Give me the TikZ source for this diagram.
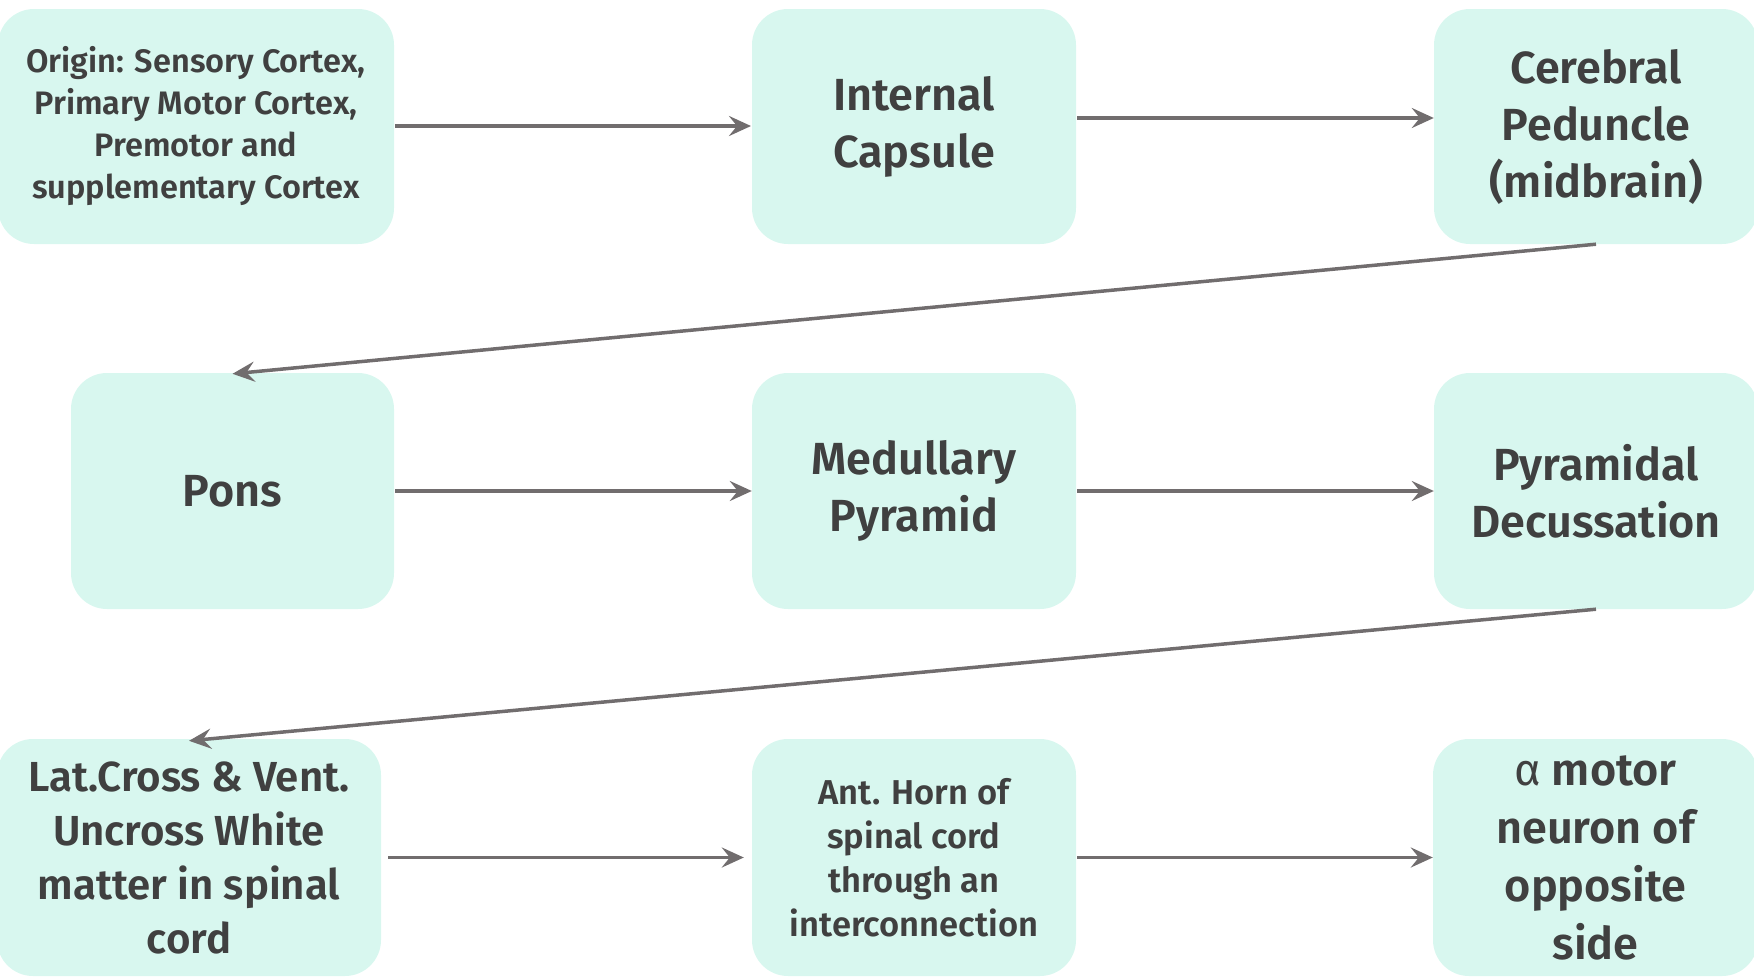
\documentclass[tikz,border=0pt]{standalone}
\usepackage{fontspec}
\setmainfont{Fira Sans}[UprightFont=* SemiBold, BoldFont=* Bold]
\newfontfamily\greekfont{Fira Sans}
\usetikzlibrary{arrows.meta}
\definecolor{boxfill}{HTML}{D8F7EF}
\definecolor{boxtext}{HTML}{404040}
\definecolor{linkgray}{HTML}{716D6E}
\newcommand{\fs}[2]{\fontsize{#1}{#2}\selectfont}
\tikzset{
  stage/.style={fill=boxfill, draw=none, rounded corners=36pt, inner sep=0pt,
    text=boxtext, align=center, font=\fs{45}{57}},
  link/.style={draw=linkgray, line width=3.5pt,
    -{Stealth[length=22pt, width=20pt, inset=8pt]}},
}
\begin{document}
\begin{tikzpicture}[x=1pt, y=-1pt]
\useasboundingbox (0,0) rectangle (1754,980);
% row 1
\node[stage, font=\fs{32.5}{42}, minimum width=396pt, minimum height=235pt] (origin) at (196,126.5)
  {Origin: Sensory Cortex,\\Primary Motor Cortex,\\Premotor and\\supplementary Cortex};
\node[stage, minimum width=324pt, minimum height=235pt] (capsule) at (914,126.5)
  {Internal\\Capsule};
\node[stage, minimum width=324pt, minimum height=235pt] (peduncle) at (1596,126.5)
  {Cerebral\\Peduncle\\(midbrain)};
% row 2
\node[stage, minimum width=323pt, minimum height=236pt] (pons) at (232.5,491)
  {Pons};
\node[stage, minimum width=324pt, minimum height=236pt] (pyramid) at (914,491)
  {Medullary\\Pyramid};
\node[stage, minimum width=324pt, minimum height=236pt] (decuss) at (1596,491)
  {Pyramidal\\Decussation};
% row 3
\node[stage, font=\fs{42}{54}, minimum width=384pt, minimum height=237pt] (white) at (189,857.5)
  {Lat.Cross \& Vent.\\Uncross White\\matter in spinal\\cord};
\node[stage, font=\fs{34.5}{44}, minimum width=324pt, minimum height=237pt] (horn) at (914,857.5)
  {Ant. Horn of\\spinal cord\\through an\\interconnection};
\node[stage, font=\fs{45}{58}, minimum width=325pt, minimum height=237pt] (alpha) at (1595.5,857.5)
  {{\greekfont α} motor\\neuron of\\opposite\\side};
% connectors
\coordinate (tipa) at (751,126);
\draw[link] (origin.east |- tipa) ++(1,0) -- (tipa);
\coordinate (srcb) at (1077,118);
\draw[link] (srcb) -- (peduncle.west |- srcb);
\draw[link] (peduncle.south) -- ([yshift=-1pt]pons.north);
\draw[link] ([xshift=1pt]pons.east) -- (pyramid.west);
\draw[link] ([xshift=1pt]pyramid.east) -- (decuss.west);
\draw[link] (decuss.south) -- ([yshift=-2pt]white.north);
\draw[link] ([xshift=7pt]white.east) -- ([xshift=-8pt]horn.west);
\draw[link] ([xshift=1pt]horn.east) -- (alpha.west);
\end{tikzpicture}
\end{document}
